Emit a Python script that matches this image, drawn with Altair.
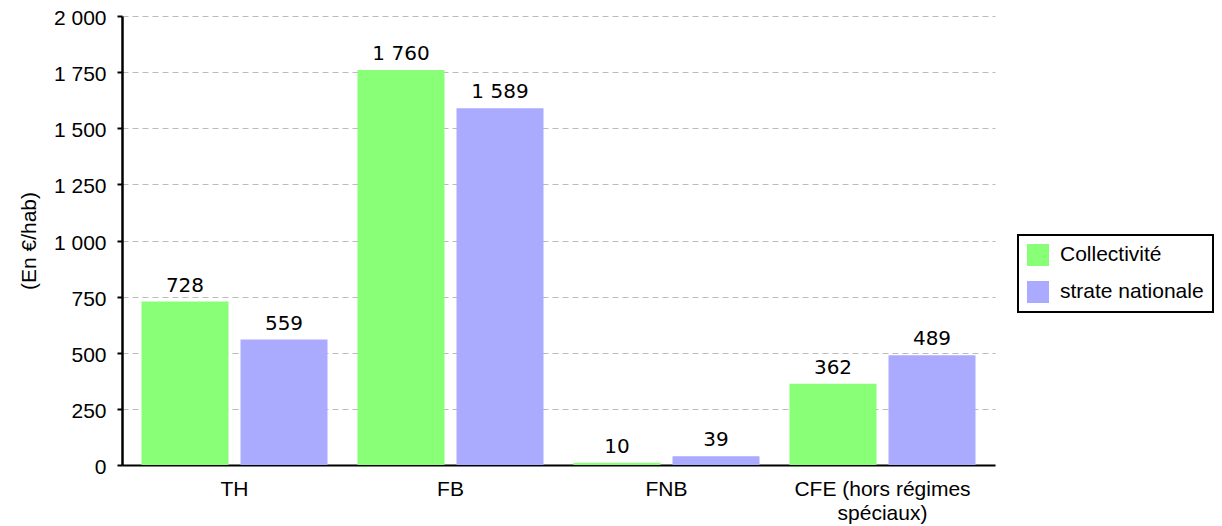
import altair as alt
import pandas as pd

categories = ["TH", "FB", "FNB", "CFE (hors régimes spéciaux)"]
series = ["Collectivité", "strate nationale"]
collectivite = [728, 1760, 10, 362]
strate = [559, 1589, 39, 489]
y_ticks = [0, 250, 500, 750, 1000, 1250, 1500, 1750, 2000]
colors = ["#88ff77", "#aaaaff"]

rows = []
for i, c in enumerate(categories):
    rows.append({"cat": c, "serie": series[0], "value": collectivite[i]})
    rows.append({"cat": c, "serie": series[1], "value": strate[i]})
df = pd.DataFrame(rows)

AX_FONT = "Liberation Sans"

x = alt.X(
    "cat:N",
    sort=categories,
    scale=alt.Scale(paddingInner=0, paddingOuter=0.0208),
    axis=alt.Axis(
        title=None,
        labelAngle=0,
        ticks=False,
        grid=False,
        domainColor="black",
        domainWidth=2,
        labelFont=AX_FONT,
        labelFontSize=21,
        labelColor="black",
        labelPadding=13,
        labelLineHeight=24,
        labelExpr="datum.label == 'CFE (hors régimes spéciaux)' ? ['CFE (hors régimes', 'spéciaux)'] : datum.label",
    ),
)
xo = alt.XOffset(
    "serie:N",
    sort=series,
    scale=alt.Scale(paddingInner=0.1212, paddingOuter=0.1515),
)
y = alt.Y(
    "value:Q",
    scale=alt.Scale(domain=[0, 2000], nice=False),
    axis=alt.Axis(
        title="(En €/hab)",
        titleFont=AX_FONT,
        titleFontSize=21,
        titleFontWeight="normal",
        titleColor="black",
        titlePadding=14,
        values=y_ticks,
        labelExpr="replace(datum.label, ',', ' ')",
        labelFont=AX_FONT,
        labelFontSize=21,
        labelColor="black",
        labelPadding=11,
        labelOffset=2.5,
        tickColor="black",
        tickWidth=2,
        tickSize=5,
        domainColor="black",
        domainWidth=2.5,
        grid=True,
        gridColor="#bbbbbb",
        gridDash=[6, 4],
        gridWidth=1,
    ),
)

bars = alt.Chart(df).mark_bar().encode(
    x=x,
    xOffset=xo,
    y=y,
    color=alt.Color(
        "serie:N",
        sort=series,
        scale=alt.Scale(domain=series, range=colors),
        legend=alt.Legend(
            title=None,
            orient="none",
            legendX=896,
            legendY=219,
            symbolType="square",
            symbolSize=484,
            symbolStrokeWidth=0,
            labelFont=AX_FONT,
            labelFontSize=21,
            labelColor="black",
            labelOffset=11,
            rowPadding=15,
            padding=9,
            strokeColor="black",
            fillColor="white",
        ),
    ),
)

labels = alt.Chart(df).transform_calculate(
    lab="replace(format(datum.value, ','), ',', ' ')"
).mark_text(
    baseline="alphabetic", dy=-10, font="DejaVu Sans", fontSize=20, color="black"
).encode(
    x=alt.X("cat:N", sort=categories),
    xOffset=alt.XOffset("serie:N", sort=series),
    y=alt.Y("value:Q"),
    text="lab:N",
)

chart = (
    alt.layer(bars, labels)
    .properties(
        width=873,
        height=449,
        autosize=alt.AutoSizeParams(type="none"),
        padding={"left": 114, "top": 8, "right": 219, "bottom": 61},
    )
    .configure_view(stroke=None)
    .configure_legend(strokeWidth=2)
)

chart.save("out.html", embed_options={"renderer": "svg", "actions": False})
